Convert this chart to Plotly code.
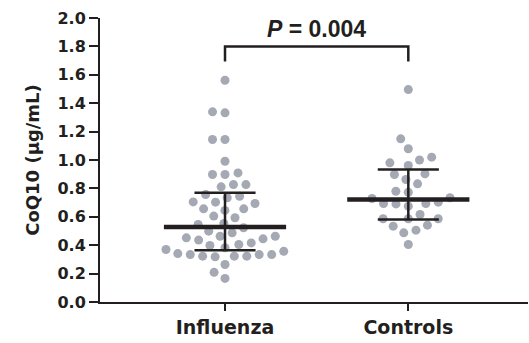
import numpy as np
import plotly.graph_objects as go

# ---------------- data ----------------
categories = ["Influenza", "Controls"]
influenza = [1.562, 1.339, 1.332, 1.144, 1.144, 0.991, 0.898, 0.909, 0.898,
             0.827, 0.811, 0.827, 0.757, 0.734, 0.745, 0.703, 0.694, 0.705,
             0.656, 0.645, 0.656, 0.593, 0.605, 0.546, 0.523, 0.553, 0.499,
             0.463, 0.463, 0.487, 0.445, 0.416, 0.398, 0.405, 0.436, 0.452,
             0.357, 0.334, 0.334, 0.323, 0.318, 0.370, 0.323, 0.323, 0.334,
             0.341, 0.264, 0.209, 0.166, 0.382]
controls = [1.496, 1.149, 1.079, 1.020, 0.980, 0.961, 1.000, 0.898, 0.903,
            0.863, 0.832, 0.780, 0.773, 0.734, 0.729, 0.691, 0.694, 0.675,
            0.694, 0.703, 0.586, 0.586, 0.616, 0.586, 0.534, 0.487, 0.506,
            0.541, 0.405]
means = [0.528, 0.722]
err_low = [0.365, 0.581]
err_high = [0.769, 0.933]
y_ticks = [0.0, 0.2, 0.4, 0.6, 0.8, 1.0, 1.2, 1.4, 1.6, 1.8, 2.0]
y_tick_text = ["0.0", "0.2", "0.4", "0.6", "0.8", "1.0", "1.2", "1.4", "1.6", "1.8", "2.0"]
p_text = "<i>P</i> = 0.004"
y_title = "CoQ10 (μg/mL)"

# ---------------- geometry / style ----------------
W, H = 529, 343
M = dict(l=100, r=1, t=18, b=41)
x_range = [-0.682, 1.653]
y_range = [0.0, 2.0]
px_x = (W - M["l"] - M["r"]) / (x_range[1] - x_range[0])
px_y = (H - M["t"] - M["b"]) / (y_range[1] - y_range[0])

DOT = "#a5a9b4"
INK = "#231f20"
FONT = "DejaVu Sans"


def beeswarm(values, d_px=12.5):
    vals = np.asarray(values, dtype=float)
    order = np.argsort(vals, kind="stable")
    placed = []
    offs = np.zeros(len(vals))
    for i in order:
        y = vals[i] * px_y
        cands = [0.0]
        for (px, py) in placed:
            dy = y - py
            if abs(dy) < d_px:
                dx = np.sqrt(d_px ** 2 - dy ** 2)
                cands += [px + dx, px - dx]
        cands.sort(key=lambda c: (round(abs(c), 6), c))
        chosen = 0.0
        for c in cands:
            if all((c - px) ** 2 + (y - py) ** 2 >= d_px ** 2 - 1e-6 for px, py in placed):
                chosen = c
                break
        placed.append((chosen, y))
        offs[i] = chosen / px_x
    return offs


fig = go.Figure()
groups = [influenza, controls]
for gi, vals in enumerate(groups):
    offs = beeswarm(vals)
    fig.add_trace(go.Scatter(
        x=gi + offs, y=vals, mode="markers",
        marker=dict(size=9, color=DOT, line=dict(width=0)),
        hoverinfo="skip", showlegend=False))

half_mean = 1 / 3
half_cap = 1 / 6
for gi in range(len(categories)):
    fig.add_trace(go.Scatter(x=[gi, gi], y=[err_low[gi], err_high[gi]], mode="lines",
                             line=dict(color=INK, width=2.5), showlegend=False, hoverinfo="skip"))
    for v in (err_low[gi], err_high[gi]):
        fig.add_trace(go.Scatter(x=[gi - half_cap, gi + half_cap], y=[v, v], mode="lines",
                                 line=dict(color=INK, width=2.5), showlegend=False, hoverinfo="skip"))
    fig.add_trace(go.Scatter(x=[gi - half_mean, gi + half_mean], y=[means[gi], means[gi]], mode="lines",
                             line=dict(color=INK, width=4.5), showlegend=False, hoverinfo="skip"))

# significance bracket
br_top, br_bot = 1.799, 1.694
fig.add_trace(go.Scatter(x=[0, 0, 1, 1], y=[br_bot, br_top, br_top, br_bot], mode="lines",
                         line=dict(color=INK, width=2.5), showlegend=False, hoverinfo="skip"))
fig.add_annotation(x=0.5, y=1.922, xref="x", yref="y", text=p_text, showarrow=False,
                   font=dict(family="Liberation Sans", size=23, color=INK, weight="bold"),
                   xanchor="center", yanchor="middle")

fig.update_layout(
    width=W, height=H, margin=M,
    plot_bgcolor="white", paper_bgcolor="white",
    font=dict(family=FONT, color=INK),
)
fig.update_xaxes(
    range=x_range, tickmode="array", tickvals=list(range(len(categories))), ticktext=categories,
    showgrid=False, zeroline=False, showline=True, linecolor=INK, linewidth=2,
    ticks="outside", ticklen=7, tickwidth=2, tickcolor=INK,
    tickfont=dict(family=FONT, size=19, color=INK, weight="bold"),
    fixedrange=True,
)
fig.update_yaxes(
    range=y_range, tickmode="array", tickvals=y_ticks, ticktext=y_tick_text,
    showgrid=False, zeroline=False, showline=True, linecolor=INK, linewidth=2,
    ticks="outside", ticklen=9, tickwidth=2, tickcolor=INK,
    tickfont=dict(family=FONT, size=16, color=INK, weight="bold"),
    title=dict(text=y_title, font=dict(family=FONT, size=18, color=INK, weight="bold"), standoff=13),
    fixedrange=True,
)
fig.write_html("out.html", post_script="document.body.style.margin='0';document.body.style.padding='0';",
               config={"staticPlot": True})
